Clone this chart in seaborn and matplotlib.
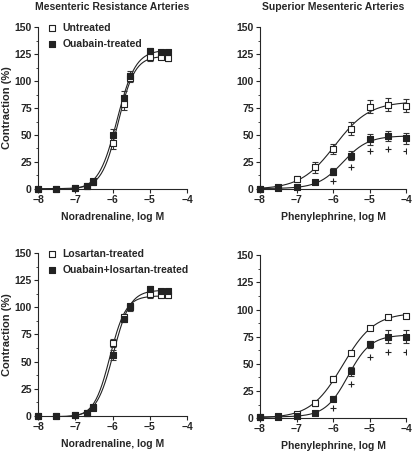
import numpy as np
import matplotlib
matplotlib.use("Agg")
import matplotlib.pyplot as plt
import seaborn as sns

sns.set_style("ticks")
plt.rcParams['font.family'] = ['Liberation Sans', 'DejaVu Sans']
plt.rcParams['font.weight'] = 'bold'

## Concentrations (log M)
ne_logm = [-8, -7.52, -7, -6.7, -6.52, -6, -5.7, -5.52, -5, -4.7, -4.52]
pe_logm = [-8, -7.5, -7, -6.5, -6, -5.5, -5, -4.5, -4]

## Mesenteric resistance arteries, noradrenaline
untreated_mra = [0, 0, 1, 3, 6, 43, 79, 103, 122, 122, 121]
untreated_mra_sem = [0, 0, 0.5, 1, 2, 6, 6, 4, 3, 2, 2]
ouabain_mra = [0, 0, 1, 3, 7, 50, 84, 105, 128, 127, 127]
ouabain_mra_sem = [0, 0, 0.5, 1, 2, 6, 7, 4, 3, 2, 2]

## Superior mesenteric arteries, phenylephrine
untreated_sma = [0, 2, 9, 20, 37, 56, 76, 78, 77]
untreated_sma_sem = [1, 1, 3, 5, 5, 6, 6, 6, 6]
ouabain_sma = [0, 0.5, 1.5, 6, 16, 31, 46, 49, 47]
ouabain_sma_sem = [0.5, 0.5, 1, 1, 3, 4, 5, 5, 5]
ouabain_sma_plus = [None, None, None, None, 7, 20, 35, 37, 35]

## Losartan groups, mesenteric resistance arteries
losartan_mra = [0, 0, 1, 3, 8, 67, 91, 100, 112, 111, 111]
losartan_mra_sem = [0, 0, 0.5, 1, 2, 4, 3, 3, 3, 2, 2]
oua_los_mra = [0, 0, 1, 3, 7, 56, 89, 101, 117, 115, 115]
oua_los_mra_sem = [0, 0, 0.5, 1, 2, 5, 3, 2, 3, 2, 2]

## Losartan groups, superior mesenteric arteries
losartan_sma = [1, 2, 4, 14, 36, 60, 83, 93, 94]
losartan_sma_sem = [0.5, 0.5, 1, 3, 3, 2, 2, 1, 1]
oua_los_sma = [1, 1, 1.5, 5, 18, 43, 68, 75, 75]
oua_los_sma_sem = [0.5, 0.5, 1, 1, 2, 4, 3, 6, 6]
oua_los_sma_plus = [None, None, None, None, 9, 31, 56, 61, 61]


def fit_sigmoid(x, y):
    # simple least-squares fit of a Hill curve (grid over EC50 and slope)
    x = np.asarray(x, float)
    y = np.asarray(y, float)
    best = None
    for ec in np.arange(-7.5, -4.5, 0.01):
        for h in np.arange(0.4, 3.0, 0.02):
            s = 1 / (1 + 10 ** ((ec - x) * h))
            A = np.column_stack([np.ones_like(s), s])
            coef, *_ = np.linalg.lstsq(A, y, rcond=None)
            err = np.sum((A @ coef - y) ** 2)
            if best is None or err < best[0]:
                best = (err, ec, h, coef)
    _, ec, h, coef = best
    xs = np.linspace(x.min(), x.max(), 200)
    ys = coef[0] + coef[1] / (1 + 10 ** ((ec - xs) * h))
    return xs, ys


def panel(ax, x, groups, xlabel, ylabel=None, title=None, legend=None, plus=None):
    for (y, sem, face) in groups:
        xs, ys = fit_sigmoid(x, y)
        sns.lineplot(x=xs, y=ys, ax=ax, color='#222222', lw=0.8)
        ax.errorbar(x, y, yerr=sem, fmt='none', ecolor='#333333',
                    elinewidth=0.8, capsize=2.2, capthick=0.8, clip_on=False)
    handles = []
    for (y, sem, face) in groups:
        h = ax.scatter(x, y, marker='s', s=17, facecolor=face,
                       edgecolor='#222222', linewidths=0.8, zorder=5, clip_on=False)
        handles.append(h)
    if plus is not None:
        px = [a for a, b in zip(x, plus) if b is not None]
        py = [b for b in plus if b is not None]
        ax.scatter(px, py, marker='+', s=25, color='#222222', linewidths=0.8)
    ax.set_xlim(-8, -4)
    ax.set_ylim(0, 150)
    ax.set_xticks([-8, -7, -6, -5, -4])
    ax.set_xticklabels(['\u22128', '\u22127', '\u22126', '\u22125', '\u22124'])
    ax.set_yticks([0, 25, 50, 75, 100, 125, 150])
    ax.set_yticks(np.arange(0, 150, 12.5), minor=True)
    ax.tick_params(labelsize=7.5, length=3, width=0.8, pad=1.5)
    ax.tick_params(which='minor', length=1.5, width=0.6)
    for sp in ax.spines.values():
        sp.set_linewidth(0.8)
    sns.despine(ax=ax)
    ax.set_xlabel(xlabel, fontsize=7.5, fontweight='bold', labelpad=5)
    if ylabel:
        ax.set_ylabel(ylabel, fontsize=8, fontweight='bold', labelpad=2)
    if title:
        ax.set_title(title, fontsize=7.5, fontweight='bold', pad=12)
    if legend:
        ax.legend(handles, legend, loc='upper left', bbox_to_anchor=(0.03, 1.05),
                  frameon=False, fontsize=7.5, handletextpad=0.5,
                  labelspacing=0.55, handlelength=1.0, borderaxespad=0)


fig = plt.figure(figsize=(4.14, 4.51), dpi=100)
ax1 = fig.add_axes([0.092, 0.581, 0.360, 0.359])
ax2 = fig.add_axes([0.628, 0.581, 0.353, 0.359])
ax3 = fig.add_axes([0.092, 0.078, 0.360, 0.361])
ax4 = fig.add_axes([0.628, 0.073, 0.353, 0.361])

panel(ax1, ne_logm,
      [(untreated_mra, untreated_mra_sem, 'white'), (ouabain_mra, ouabain_mra_sem, '#222222')],
      'Noradrenaline, log M', 'Contraction (%)', 'Mesenteric Resistance Arteries',
      ['Untreated', 'Ouabain-treated'])
panel(ax2, pe_logm,
      [(untreated_sma, untreated_sma_sem, 'white'), (ouabain_sma, ouabain_sma_sem, '#222222')],
      'Phenylephrine, log M', None, 'Superior Mesenteric Arteries', plus=ouabain_sma_plus)
panel(ax3, ne_logm,
      [(losartan_mra, losartan_mra_sem, 'white'), (oua_los_mra, oua_los_mra_sem, '#222222')],
      'Noradrenaline, log M', 'Contraction (%)', None,
      ['Losartan-treated', 'Ouabain+losartan-treated'])
panel(ax4, pe_logm,
      [(losartan_sma, losartan_sma_sem, 'white'), (oua_los_sma, oua_los_sma_sem, '#222222')],
      'Phenylephrine, log M', plus=oua_los_sma_plus)

fig.savefig('out.png', dpi=100)
